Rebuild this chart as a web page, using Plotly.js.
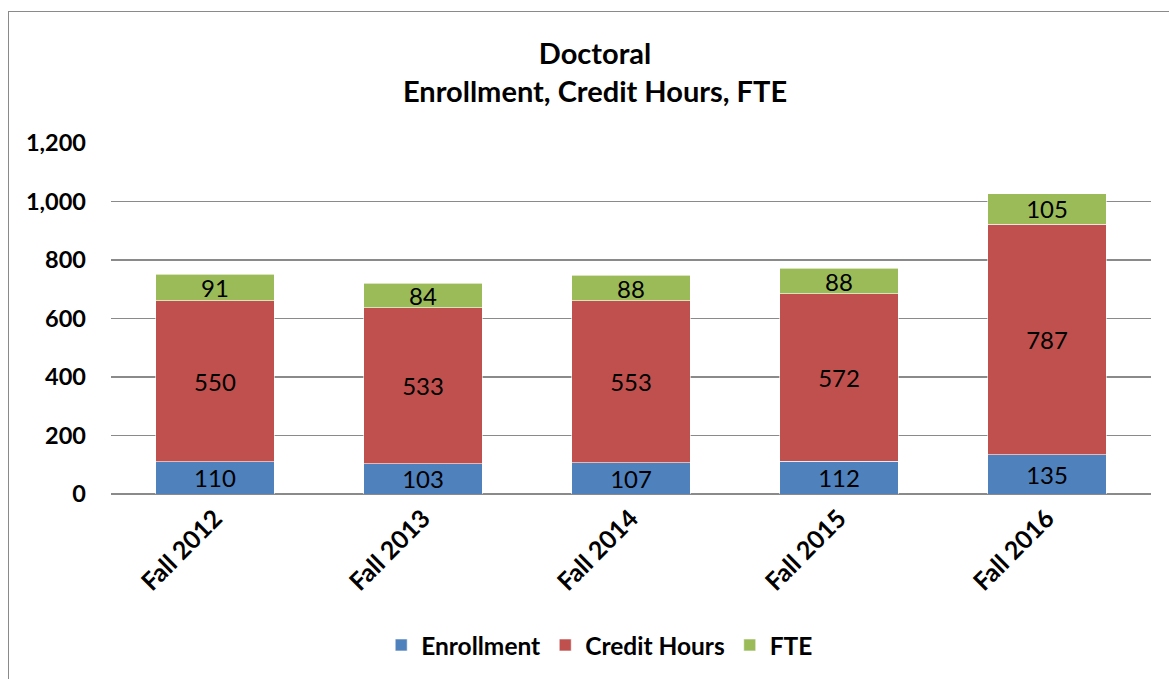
<!DOCTYPE html>
<html>
<head>
<meta charset="utf-8">
<script src="https://cdn.plot.ly/plotly-3.0.1.min.js"></script>
<style>
html,body{margin:0;padding:0;background:#fff;overflow:hidden;}
#chart{width:1169px;height:679px;position:absolute;left:0;top:0;}
#frame{position:absolute;left:8px;top:11px;width:1200px;height:700px;border:1.5px solid #8a8a8a;pointer-events:none;box-sizing:border-box;}
</style>
</head>
<body>
<div id="chart"></div>
<div id="frame"></div>
<script>
var categories = ["Fall 2012", "Fall 2013", "Fall 2014", "Fall 2015", "Fall 2016"];
var enrollment = [110, 103, 107, 112, 135];
var creditHours = [550, 533, 553, 572, 787];
var fte = [91, 84, 88, 88, 105];
var yTickVals = [0, 200, 400, 600, 800, 1000, 1200];
var yTickText = ["0", "200", "400", "600", "800", "1,000", "1,200"];

var FONT = "Lato, 'Open Sans', sans-serif";
function series(name, vals, color) {
  return {
    type: "bar", name: name, x: categories, y: vals,
    marker: {color: color, line: {color: "rgba(255,255,255,0.6)", width: 1}},
    text: vals.map(String), textposition: "inside", insidetextanchor: "middle",
    textangle: 0, constraintext: "none",
    textfont: {family: FONT, size: 24, color: "#000"},
    hoverinfo: "name+y"
  };
}
var data = [
  series("Enrollment", enrollment, "#4F81BD"),
  series("Credit Hours", creditHours, "#C0504D"),
  series("FTE", fte, "#9BBB59")
];
var layout = {
  width: 1169, height: 679,
  barmode: "stack", bargap: 0.43,
  paper_bgcolor: "rgba(0,0,0,0)", plot_bgcolor: "#fff",
  margin: {l: 111, r: 18, t: 143, b: 185},
  title: {
    text: "<b>Doctoral</b><br><b>Enrollment, Credit Hours, FTE</b>",
    font: {family: FONT, size: 29, color: "#000"},
    x: 0.509, xref: "container", xanchor: "center",
    y: 0.906, yref: "container", yanchor: "middle"
  },
  xaxis: {
    type: "category", tickangle: -45, showgrid: false, showline: false,
    ticks: "", tickfont: {family: FONT, size: 25, color: "#000", weight: "bold"},
    ticklabelstandoff: 4
  },
  yaxis: {
    range: [0, 1200], tickvals: yTickVals, ticktext: yTickText,
    showgrid: true, gridcolor: "#8a8a8a", gridwidth: 1.6,
    zeroline: true, zerolinecolor: "#8a8a8a", zerolinewidth: 1.6,
    showline: false, ticks: "",
    tickfont: {family: FONT, size: 23.5, color: "#000", weight: "bold"},
    ticklabelstandoff: 24
  },
  legend: {
    orientation: "h", xref: "container", x: 0.513, xanchor: "center",
    yref: "container", y: 0.05, yanchor: "middle",
    font: {family: FONT, size: 24.5, color: "#000", weight: "bold"},
    itemwidth: 30, traceorder: "normal"
  },
  showlegend: true
};
Plotly.newPlot("chart", data, layout, {displayModeBar: false, staticPlot: true});
</script>
</body>
</html>
